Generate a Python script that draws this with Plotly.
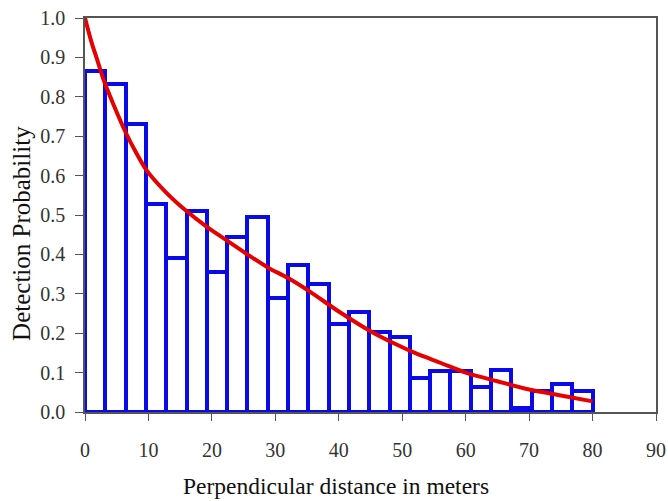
import plotly.graph_objects as go

bin_width = 3.2
bin_left = [i * bin_width for i in range(25)]
bin_centers = [b + bin_width / 2 for b in bin_left]
bar_heights = [0.865, 0.833, 0.731, 0.527, 0.390, 0.510, 0.355, 0.443, 0.495, 0.289,
               0.373, 0.325, 0.223, 0.255, 0.204, 0.191, 0.086, 0.105, 0.105, 0.063,
               0.106, 0.009, 0.054, 0.071, 0.054]

curve_x = [0, 1, 2, 3, 4.5, 6.4, 8, 9.6, 12.8, 16, 19.2, 22.4, 25.6, 28.8, 32, 35.5,
           40, 45, 48.6, 52, 56, 60, 65, 70, 75, 80]
curve_y = [1.0, 0.94, 0.89, 0.84, 0.78, 0.71, 0.66, 0.616, 0.557, 0.51, 0.47, 0.435,
           0.40, 0.367, 0.34, 0.305, 0.255, 0.205, 0.175, 0.15, 0.125, 0.10, 0.078,
           0.057, 0.042, 0.027]

x_ticks = list(range(0, 91, 10))
y_ticks = [round(i * 0.1, 1) for i in range(11)]
x_title = "Perpendicular distance in meters"
y_title = "Detection Probability"

fig = go.Figure()
fig.add_trace(go.Bar(
    x=bin_centers, y=bar_heights, width=bin_width,
    marker=dict(color="rgba(0,0,0,0)", line=dict(color="#0a0ae6", width=4)),
    showlegend=False, hoverinfo="skip",
))
fig.add_trace(go.Scatter(
    x=curve_x, y=curve_y, mode="lines",
    line=dict(color="#e60000", width=4, shape="spline", smoothing=0.8),
    showlegend=False, hoverinfo="skip",
))

font_family = "Liberation Serif, Times New Roman, serif"
fig.update_layout(
    width=668, height=501,
    margin=dict(l=85, r=12, t=18, b=89),
    paper_bgcolor="white", plot_bgcolor="white",
    font=dict(family=font_family, size=20, color="#333"),
    bargap=0,
    annotations=[
        dict(text=x_title, xref="paper", yref="paper", x=0.4396, y=0,
             xanchor="center", yanchor="middle", yshift=-74, showarrow=False,
             font=dict(size=23.5, color="#111")),
        dict(text=y_title, xref="paper", yref="paper", x=0, y=0.452,
             xanchor="center", yanchor="middle", xshift=-63, textangle=-90,
             showarrow=False, font=dict(size=25, color="#111")),
    ],
)
fig.update_xaxes(
    range=[0, 90], tickvals=x_ticks, ticktext=[str(v) for v in x_ticks],
    showgrid=False, zeroline=False, automargin=False,
    showline=True, linecolor="#555", linewidth=1.5, mirror=True,
    ticks="outside", ticklen=7, tickcolor="#555", tickwidth=1,
    ticklabelstandoff=12, ticklabeloverflow="allow",
)
fig.update_yaxes(
    range=[0, 1.0], tickvals=y_ticks, ticktext=[f"{v:.1f}" for v in y_ticks],
    showgrid=False, zeroline=False, automargin=False,
    showline=True, linecolor="#555", linewidth=1.5, mirror=True,
    ticks="outside", ticklen=8, tickcolor="#555", tickwidth=1,
    ticklabelstandoff=6, ticklabeloverflow="allow",
)

fig.write_html("out.html", config={"displayModeBar": False},
               post_script="document.body.style.margin='0';")
